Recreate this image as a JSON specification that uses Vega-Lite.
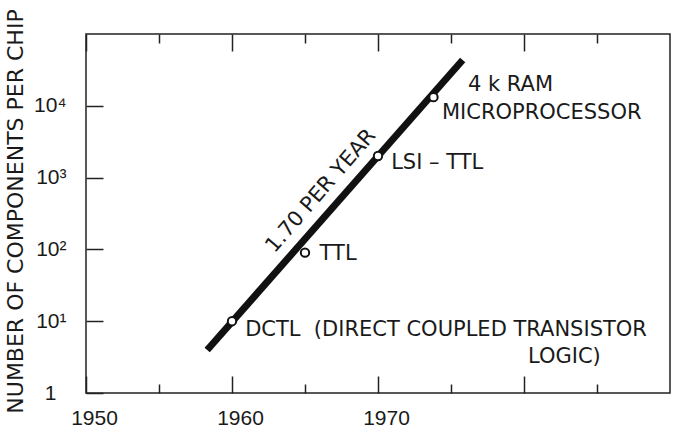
{
  "$schema": "https://vega.github.io/schema/vega-lite/v6.json",
  "width": 584,
  "height": 359,
  "autosize": "none",
  "padding": {"left": 86, "top": 34, "right": 3, "bottom": 35},
  "background": "white",
  "config": {
    "view": {"stroke": "#222", "strokeWidth": 1.5},
    "font": "DejaVu Sans",
    "axis": {"domain": false, "grid": false, "tickColor": "#222", "tickWidth": 1.5, "labelColor": "#1a1a1a", "titleColor": "#1a1a1a", "labelFont": "Liberation Sans", "titleFont": "DejaVu Sans"}
  },
  "datasets": {
    "trend": [
      {"year": 1958.3, "value": 3.97},
      {"year": 1975.8, "value": 43400}
    ],
    "chips": [
      {"year": 1960, "value": 10, "name": "DCTL"},
      {"year": 1965, "value": 90, "name": "TTL"},
      {"year": 1970, "value": 2000, "name": "LSI-TTL"},
      {"year": 1973.8, "value": 13200, "name": "4k RAM / Microprocessor"}
    ],
    "labels": [
      {"year": 1976.16, "value": 19500, "text": "4 k RAM"},
      {"year": 1974.38, "value": 7940, "text": "MICROPROCESSOR"},
      {"year": 1970.9, "value": 1600, "text": "LSI – TTL"},
      {"year": 1966.0, "value": 86, "text": "TTL"},
      {"year": 1960.9, "value": 7.5, "text": "DCTL\u00a0\u00a0(DIRECT COUPLED TRANSISTOR"},
      {"year": 1980.27, "value": 3.17, "text": "LOGIC)"}
    ],
    "slope": [
      {"year": 1966.1, "value": 650, "text": "1.70 PER YEAR"}
    ]
  },
  "layer": [
    {
      "data": {"name": "trend"},
      "mark": {"type": "line", "color": "#111", "strokeWidth": 7, "strokeCap": "butt"},
      "encoding": {
        "x": {
          "field": "year", "type": "quantitative",
          "scale": {"domain": [1950, 1990], "nice": false, "zero": false},
          "axis": {
            "orient": "bottom", "title": null,
            "values": [1950, 1955, 1960, 1965, 1970, 1975, 1980, 1985],
            "tickSize": {"condition": {"test": "datum.value % 10 === 0", "value": -17}, "value": -9},
            "labelExpr": "datum.value % 10 === 0 && datum.value <= 1970 ? datum.label : ''",
            "labelFontSize": 21, "labelPadding": 31, "labelFlush": false, "labelOffset": 8, "format": "d"
          }
        },
        "y": {
          "field": "value", "type": "quantitative",
          "scale": {"type": "log", "domain": [1, 100000], "nice": false},
          "axis": {
            "orient": "left",
            "values": [1, 10, 100, 1000, 10000],
            "tickSize": -17,
            "labelExpr": "datum.value == 1 ? '1' : datum.value == 10 ? '10¹' : datum.value == 100 ? '10²' : datum.value == 1000 ? '10³' : '10⁴'",
            "labelFontSize": 21,
            "labelPadding": {"condition": {"test": "datum.value == 1", "value": 47}, "value": 37},
            "labelFlush": false,
            "title": "NUMBER OF COMPONENTS PER CHIP",
            "titleFontSize": 22, "titleFontWeight": "normal",
            "titleAngle": 270, "titleX": -71, "titleY": 177,
            "titleAlign": "center", "titleBaseline": "middle"
          }
        }
      }
    },
    {
      "data": {"name": "chips"},
      "mark": {"type": "point", "shape": "circle", "filled": true, "fill": "white", "fillOpacity": 1, "stroke": "#111", "strokeWidth": 2, "size": 70},
      "encoding": {
        "x": {
          "field": "year", "type": "quantitative",
          "axis": {
            "orient": "top", "title": null, "labels": false,
            "values": [1950, 1955, 1960, 1965, 1970, 1975, 1980, 1985],
            "tickSize": {"condition": {"test": "datum.value % 10 === 0", "value": -17}, "value": -9}
          }
        },
        "y": {"field": "value", "type": "quantitative"}
      }
    },
    {
      "data": {"name": "labels"},
      "mark": {"type": "text", "align": "left", "baseline": "middle", "fontSize": 21, "color": "#1a1a1a", "font": "DejaVu Sans"},
      "encoding": {
        "x": {"field": "year", "type": "quantitative", "axis": null},
        "y": {"field": "value", "type": "quantitative"},
        "text": {"field": "text"}
      }
    },
    {
      "data": {"name": "slope"},
      "mark": {"type": "text", "align": "center", "baseline": "middle", "fontSize": 21, "angle": 311, "color": "#1a1a1a", "font": "DejaVu Sans"},
      "encoding": {
        "x": {"field": "year", "type": "quantitative", "axis": null},
        "y": {"field": "value", "type": "quantitative"},
        "text": {"field": "text"}
      }
    }
  ]
}
